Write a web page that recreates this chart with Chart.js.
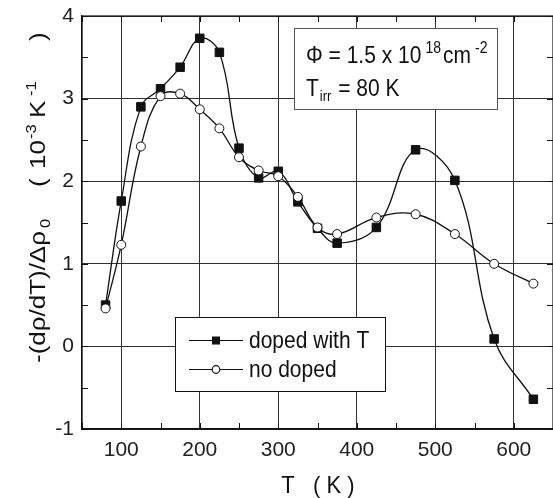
<!DOCTYPE html>
<html>
<head>
<meta charset="utf-8">
<script src="https://cdn.jsdelivr.net/npm/chart.js@4.4.1/dist/chart.umd.min.js"></script>
<style>
html, body { margin: 0; padding: 0; background: #fff; }
#wrap { width: 553px; height: 498px; }
</style>
</head>
<body>
<div id="wrap"><canvas id="chart" width="553" height="498"></canvas></div>
<script>
var temps = [80, 100, 125, 150, 175, 200, 225, 250, 275, 300, 325, 350, 375, 425, 475, 525, 575, 625];
var dopedValues = [0.50, 1.76, 2.90, 3.12, 3.38, 3.73, 3.56, 2.40, 2.04, 2.12, 1.75, 1.43, 1.25, 1.44, 2.38, 2.01, 0.09, -0.64];
var undopedValues = [0.46, 1.23, 2.42, 3.03, 3.06, 2.87, 2.64, 2.29, 2.13, 2.06, 1.81, 1.44, 1.36, 1.56, 1.60, 1.36, 1.00, 0.76];
var xTicks = [100, 200, 300, 400, 500, 600];
var yTicks = [-1, 0, 1, 2, 3, 4];
var seriesNames = ['doped with T', 'no doped'];

var FONT = "'Liberation Sans', Arial, sans-serif";
var INK = '#111';

function toPoints(values) {
    return temps.map(function (t, i) { return { x: t, y: values[i] }; });
}

// text pieces: [text, size, dy, gapBefore]; sy stretches glyphs vertically
function drawRun(ctx, x, y, pieces, sy) {
    var cx = x;
    pieces.forEach(function (p) {
        ctx.font = p[1] + 'px ' + FONT;
        cx += p[3] || 0;
        ctx.save();
        ctx.translate(cx, y + (p[2] || 0));
        ctx.scale(1, sy || 1);
        ctx.fillText(p[0], 0, 0);
        ctx.restore();
        cx += ctx.measureText(p[0]).width;
    });
}

var decorPlugin = {
    id: 'decor',
    afterDraw: function (chart) {
        var ctx = chart.ctx;
        var a = chart.chartArea;
        var xs = chart.scales.x;
        var ys = chart.scales.y;
        ctx.save();

        // frame
        ctx.strokeStyle = INK;
        ctx.lineWidth = 1.2;
        ctx.strokeRect(a.left, a.top, a.right - a.left, a.bottom - a.top);

        // inward ticks on all four sides
        ctx.lineWidth = 1;
        ctx.beginPath();
        for (var v = 50; v <= 650; v += 50) {
            var px = Math.round(xs.getPixelForValue(v)) + 0.5;
            ctx.moveTo(px, a.bottom); ctx.lineTo(px, a.bottom - 6);
            ctx.moveTo(px, a.top); ctx.lineTo(px, a.top + 6);
        }
        for (var w = -1; w <= 4; w += 0.5) {
            var py = Math.round(ys.getPixelForValue(w)) + 0.5;
            ctx.moveTo(a.left, py); ctx.lineTo(a.left + 6, py);
            ctx.moveTo(a.right, py); ctx.lineTo(a.right - 6, py);
        }
        ctx.stroke();

        ctx.fillStyle = INK;
        ctx.textBaseline = 'alphabetic';
        ctx.textAlign = 'left';

        // annotation box
        ctx.fillStyle = '#fff';
        ctx.fillRect(294, 28, 203, 81);
        ctx.strokeStyle = '#555';
        ctx.strokeRect(294.5, 28.5, 203, 81);
        ctx.fillStyle = INK;
        drawRun(ctx, 306, 63, [
            ['\u03A6 = 1.5 x 10', 21, 0, 0],
            ['18', 14, -10, 4],
            ['cm', 21, 0, 2],
            ['-2', 14, -10, 4]
        ], 1.12);
        drawRun(ctx, 306, 96, [
            ['T', 21, 0, 0],
            ['irr', 13, 5, 1],
            [' = 80 K', 21, 0, 1]
        ], 1.12);

        // legend box
        ctx.fillStyle = '#fff';
        ctx.fillRect(175, 317, 210, 74);
        ctx.strokeStyle = INK;
        ctx.strokeRect(175.5, 317.5, 210, 74);
        var rows = [340, 369];
        ctx.lineWidth = 1.2;
        rows.forEach(function (ry, i) {
            ctx.strokeStyle = INK;
            ctx.beginPath();
            ctx.moveTo(189, ry + 0.5); ctx.lineTo(243, ry + 0.5);
            ctx.stroke();
            if (i === 0) {
                ctx.fillStyle = INK;
                ctx.fillRect(212, ry - 3.5, 8, 8);
            } else {
                ctx.fillStyle = '#fff';
                ctx.beginPath();
                ctx.arc(216, ry + 0.5, 3.8, 0, Math.PI * 2);
                ctx.fill();
                ctx.stroke();
            }
            ctx.fillStyle = INK;
            drawRun(ctx, 249, ry + 8, [[seriesNames[i], 21, 0, 0]], 1.12);
        });

        // x axis title
        ctx.font = '22px ' + FONT;
        var xt = 'T   ( K )';
        drawRun(ctx, 318 - ctx.measureText(xt).width / 2, 493, [[xt, 22, 0, 0]], 1.12);

        // y axis title (rotated, stretched along its length like the original)
        ctx.translate(45, 363);
        ctx.rotate(-Math.PI / 2);
        var yParts = [
            ['-(d\u03C1/dT)/\u0394\u03C1', 22, 0, 0],
            ['0', 14, 5, 135],
            ['(', 22, 0, 176],
            ['10', 22, 0, 194],
            ['-3', 14, -9, 224],
            ['K', 22, 0, 245],
            ['-1', 14, -9, 267],
            [')', 22, 0, 322]
        ];
        yParts.forEach(function (p) {
            ctx.save();
            ctx.font = p[1] + 'px ' + FONT;
            ctx.translate(p[3], p[2]);
            ctx.scale(1.18, 1);
            ctx.fillText(p[0], 0, 0);
            ctx.restore();
        });

        ctx.restore();
    }
};

var tickFont = { family: FONT, size: 21 };

new Chart(document.getElementById('chart'), {
    type: 'line',
    data: {
        datasets: [{
            label: seriesNames[0],
            data: toPoints(dopedValues),
            borderColor: INK,
            borderWidth: 1.3,
            pointStyle: 'rect',
            pointRadius: 6,
            pointBackgroundColor: INK,
            pointBorderColor: INK,
            pointBorderWidth: 1,
            tension: 0.4,
            fill: false,
            order: 1
        }, {
            label: seriesNames[1],
            data: toPoints(undopedValues),
            borderColor: INK,
            borderWidth: 1.3,
            pointStyle: 'circle',
            pointRadius: 4.5,
            pointBackgroundColor: '#fff',
            pointBorderColor: INK,
            pointBorderWidth: 1,
            tension: 0.4,
            fill: false,
            order: 0
        }]
    },
    options: {
        responsive: false,
        animation: false,
        devicePixelRatio: 1,
        layout: { autoPadding: false, padding: { top: 16, right: 0, left: 0, bottom: 0 } },
        plugins: { legend: { display: false }, tooltip: { enabled: false } },
        scales: {
            x: {
                type: 'linear',
                min: 50,
                max: 650,
                afterBuildTicks: function (s) { s.ticks = xTicks.map(function (v) { return { value: v }; }); },
                afterFit: function (s) {
                    s.height = 69;
                    s.paddingLeft = 0;
                    s.paddingRight = 0;
                },
                grid: { color: '#333', lineWidth: 1, drawTicks: false },
                border: { display: true, color: INK, width: 1.2 },
                ticks: { font: tickFont, color: '#222', padding: 9, maxRotation: 0, autoSkip: false }
            },
            y: {
                min: -1,
                max: 4,
                afterBuildTicks: function (s) { s.ticks = yTicks.map(function (v) { return { value: v }; }); },
                afterFit: function (s) {
                    s.width = 82;
                    s.paddingTop = 0;
                    s.paddingBottom = 0;
                },
                grid: { color: '#333', lineWidth: 1, drawTicks: false },
                border: { display: true, color: INK, width: 1.2 },
                ticks: { font: tickFont, color: '#222', padding: 8 }
            }
        }
    },
    plugins: [decorPlugin]
});
</script>
</body>
</html>
